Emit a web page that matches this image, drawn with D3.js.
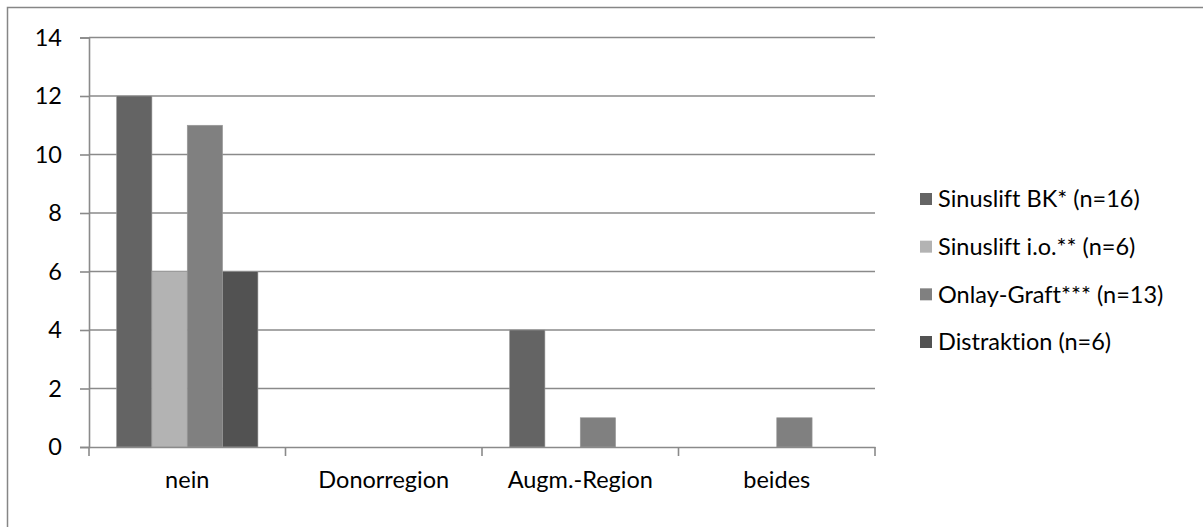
<!DOCTYPE html>
<html>
<head>
<meta charset="utf-8">
<script src="https://cdn.jsdelivr.net/npm/d3@7"></script>
<style>
  html, body { margin: 0; padding: 0; background: #fff; }
  svg { display: block; }
  text { font-family: Lato, "Open Sans", sans-serif; fill: #000; font-variant-ligatures: none; }
</style>
</head>
<body>
<svg id="chart" width="1203" height="527"></svg>
<script>
// Categories on the x axis
const categories = ["nein", "Donorregion", "Augm.-Region", "beides"];
// Series names (legend) and counts per category
const seriesNames = ["Sinuslift BK* (n=16)", "Sinuslift i.o.** (n=6)", "Onlay-Graft*** (n=13)", "Distraktion (n=6)"];
const sinusliftBK   = [12, 0, 4, 0];
const sinusliftIO   = [6, 0, 0, 0];
const onlayGraft    = [11, 0, 1, 1];
const distraktion   = [6, 0, 0, 0];
const yTicks = [0, 2, 4, 6, 8, 10, 12, 14];

const seriesValues = [sinusliftBK, sinusliftIO, onlayGraft, distraktion];
const colors = ["#646464", "#b3b3b3", "#808080", "#525252"];

const svg = d3.select("#chart");
const W = 1203, H = 527;
const FONT = "Lato, 'Open Sans', sans-serif";
const FS = "23.5px";

// Outer chart frame (extends past the right and bottom edges)
svg.append("rect")
  .attr("x", 7.5).attr("y", 7.5)
  .attr("width", W + 10).attr("height", H + 10)
  .attr("fill", "#fff").attr("stroke", "#868686").attr("stroke-width", 1.5);

const plot = { left: 89, right: 875, top: 37.5, bottom: 447 };

const x0 = d3.scaleBand().domain(categories).range([plot.left, plot.right]).padding(0);
const x1 = d3.scaleBand().domain(d3.range(seriesNames.length))
  .range([0, x0.bandwidth()]).paddingInner(0).paddingOuter(0.78);
const y = d3.scaleLinear().domain([0, 14]).range([plot.bottom, plot.top]);

const gridColor = "#8a8a8a";

// Horizontal gridlines
svg.append("g")
  .selectAll("line").data(yTicks.filter(d => d > 0)).join("line")
  .attr("x1", plot.left).attr("x2", plot.right)
  .attr("y1", d => y(d)).attr("y2", d => y(d))
  .attr("stroke", gridColor).attr("stroke-width", 1.6);

// Y axis
const yAxis = svg.append("g")
  .attr("transform", `translate(${plot.left},0)`)
  .call(d3.axisLeft(y).tickValues(yTicks).tickSize(9).tickPadding(18).tickFormat(d3.format("d")));
yAxis.attr("font-family", null).attr("font-size", null);
yAxis.select(".domain").attr("stroke", gridColor).attr("stroke-width", 1.6);
yAxis.selectAll(".tick line").attr("stroke", gridColor).attr("stroke-width", 1.6);
yAxis.selectAll(".tick text")
  .style("font-family", FONT).style("font-size", FS).attr("fill", "#000");

// Bars
const groups = svg.append("g").selectAll("g")
  .data(categories).join("g")
  .attr("transform", d => `translate(${x0(d)},0)`);

groups.selectAll("rect")
  .data((c, ci) => seriesValues.map((vals, si) => ({ si, v: vals[ci] })))
  .join("rect")
  .filter(d => d.v > 0)
  .attr("x", d => x1(d.si))
  .attr("width", x1.bandwidth())
  .attr("y", d => y(d.v))
  .attr("height", d => y(0) - y(d.v))
  .attr("fill", d => colors[d.si])
  .attr("stroke", "#9a9a9a").attr("stroke-width", 0.6);

// X axis
const xAxis = svg.append("g")
  .attr("transform", `translate(0,${plot.bottom})`)
  .call(d3.axisBottom(x0).tickSize(0).tickPadding(24));
xAxis.attr("font-family", null).attr("font-size", null);
xAxis.select(".domain").attr("stroke", gridColor).attr("stroke-width", 1.6);
xAxis.selectAll(".tick text")
  .style("font-family", FONT).style("font-size", FS).attr("fill", "#000");

// Category boundary ticks
const boundaries = categories.map(c => x0(c)).concat([plot.right]);
svg.append("g").selectAll("line").data(boundaries).join("line")
  .attr("x1", d => d).attr("x2", d => d)
  .attr("y1", plot.bottom).attr("y2", plot.bottom + 9)
  .attr("stroke", gridColor).attr("stroke-width", 1.6);

// Legend
const legendY = d3.scalePoint().domain(d3.range(seriesNames.length)).range([199, 342]);
const legend = svg.append("g").selectAll("g")
  .data(seriesNames).join("g")
  .attr("transform", (d, i) => `translate(920,${legendY(i)})`);
legend.append("rect")
  .attr("x", 0).attr("y", -6).attr("width", 12).attr("height", 12)
  .attr("fill", (d, i) => colors[i]);
legend.append("text")
  .attr("x", 18).attr("y", 0).attr("dy", "0.35em")
  .style("font-family", FONT).style("font-size", FS)
  .text(d => d);
</script>
</body>
</html>
